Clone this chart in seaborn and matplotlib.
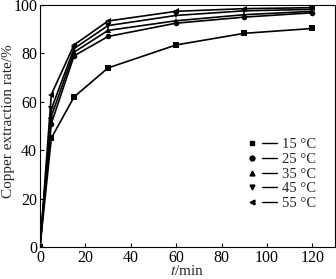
import matplotlib
matplotlib.use("Agg")
import matplotlib.pyplot as plt
import seaborn as sns
import pandas as pd
from matplotlib.lines import Line2D
from matplotlib.legend_handler import HandlerTuple

time_min = [0, 5, 15, 30, 60, 90, 120]
temps = ["15 °C", "25 °C", "35 °C", "45 °C", "55 °C"]
rate_15 = [0, 45, 62, 74, 83.5, 88.3, 90.3]
rate_25 = [0, 51, 79, 87, 92.5, 95, 96.8]
rate_35 = [0, 54, 80.5, 89.5, 93.5, 96, 97.4]
rate_45 = [0, 57, 82, 91.5, 95.7, 97.6, 98.2]
rate_55 = [0, 63, 83.5, 93.4, 97.4, 98.5, 98.9]
markers = ["s", "o", "^", "v", "<"]

series = [rate_15, rate_25, rate_35, rate_45, rate_55]
df = pd.DataFrame({
    "t": time_min * len(temps),
    "rate": sum(series, []),
    "T": [t for t in temps for _ in time_min],
})

sns.set_style("ticks")
plt.rcParams["font.family"] = ["Liberation Serif", "DejaVu Serif"]
plt.rcParams["mathtext.fontset"] = "stix"

fig = plt.figure(figsize=(3.36, 2.79), dpi=100)
ax = fig.add_axes([0.119, 0.115, 0.878, 0.867])

sns.lineplot(data=df, x="t", y="rate", hue="T", style="T", markers=markers,
             dashes=False, palette=["black"] * 5, ax=ax, linewidth=1.2,
             markersize=4, markeredgewidth=0, legend=False)

ax.set_xlim(0, 130)
ax.set_ylim(0, 100)
ax.set_xticks([0, 20, 40, 60, 80, 100, 120])
ax.set_yticks([0, 20, 40, 60, 80, 100])
ax.tick_params(direction="in", length=3, width=0.8, labelsize=11.5, pad=2,
               colors="black")
for s in ax.spines.values():
    s.set_linewidth(0.8)
    s.set_color("black")
    s.set_visible(True)

ax.set_xlabel("$t$/min", fontsize=11)
ax.set_ylabel("Copper extraction rate/%", fontsize=11)
ax.xaxis.set_label_coords(0.5, -0.072)
ax.yaxis.set_label_coords(-0.085, 0.52)

handles = []
for m in markers:
    mk = Line2D([], [], marker=m, color="black", linestyle="none", markersize=3.5)
    ln = Line2D([], [], color="black", linewidth=1.0)
    handles.append((mk, ln))
ax.legend(handles, temps, handler_map={tuple: HandlerTuple(ndivide=None, pad=0.2)},
          loc="upper right", bbox_to_anchor=(0.96, 0.48), frameon=False,
          fontsize=10.5, handlelength=2.2, handletextpad=0.35, labelspacing=0.1,
          borderpad=0)

fig.savefig("out.png", dpi=100)
